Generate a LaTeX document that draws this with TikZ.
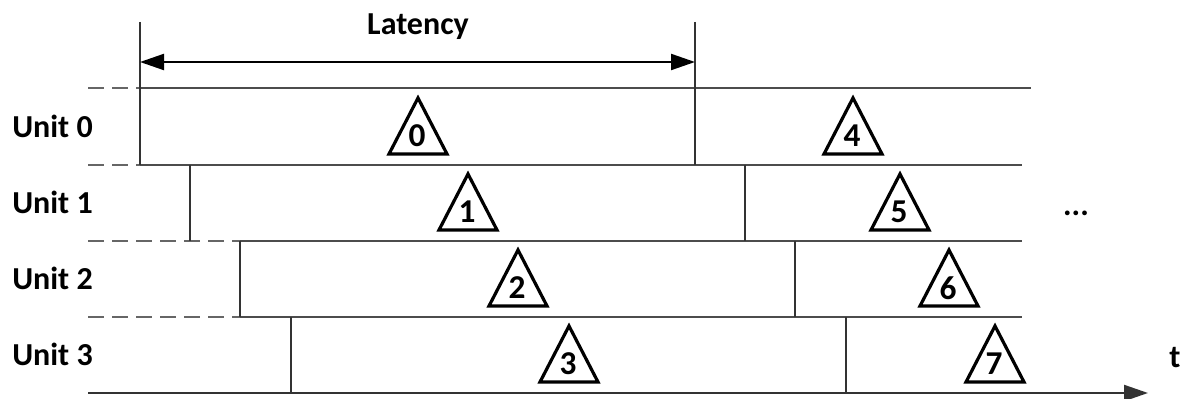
\documentclass[tikz,border=0pt]{standalone}
\usepackage{fontspec}
\setmainfont{Carlito}
\usetikzlibrary{arrows.meta}
\begin{document}
\begin{tikzpicture}[x=0.75pt,y=-0.75pt,
  lbl/.style={font=\bfseries\fontsize{24}{26}\selectfont, text=black, inner sep=0pt},
  dig/.style={font=\bfseries\fontsize{25}{27}\selectfont, text=black, inner sep=0pt},
  hl/.style={line width=1.6pt, draw=black!70},
  vl/.style={line width=1.6pt, draw=black!80},
  dsh/.style={line width=1.6pt, draw=black!60, dash pattern=on 12pt off 6pt},
  tri/.style={line width=2.4pt, draw=black, line join=miter},
  arr/.style={line width=1.6pt, draw=black, -{Triangle[length=18pt,width=12pt]}}]
\useasboundingbox (0,0) rectangle (1189,399);

% labels
\node[lbl] (lat) at (418,27) {Latency};
\node[lbl, anchor=west] (u0) at (12,126) {Unit 0};
\node[lbl, anchor=west] (u1) at (12,202) {Unit 1};
\node[lbl, anchor=west] (u2) at (12,278) {Unit 2};
\node[lbl, anchor=west] (u3) at (12,354) {Unit 3};
\node[lbl] (dots) at (1076,213) {...};
\node[lbl] (t) at (1175,358) {t};

% coordinates
\coordinate (a0) at (140,22);  \coordinate (b0) at (695,22);
\coordinate (la) at (140,62);  \coordinate (lb) at (695,62);

% dashed lead-ins
\draw[dsh] (88,88) -- (140,88);
\draw[dsh] (88,165) -- (140,165);
\draw[dsh] (88,241) -- (240,241);
\draw[dsh] (88,317) -- (240,317);

% horizontal lines
\draw[hl] (140,88) -- (1031,88);
\draw[hl] (140,165) -- (1022,165);
\draw[hl] (240,241) -- (1022,241);
\draw[hl] (240,317) -- (1022,317);

% axis
\coordinate (ax0) at (88,393); \coordinate (ax1) at (1148,393);
\draw[arr, draw=black!80] (ax0) -- (ax1);

% vertical lines
\draw[vl] (a0) -- (140,165);
\draw[vl] (b0) -- (695,165);
\draw[vl] (190,165) -- (190,241);
\draw[vl] (745,165) -- (745,241);
\draw[vl] (240,241) -- (240,317);
\draw[vl] (795,241) -- (795,317);
\draw[vl] (291,317) -- (291,393);
\draw[vl] (846,317) -- (846,393);

% latency arrow
\draw[line width=1.6pt, {Triangle[length=18pt,width=12pt]}-{Triangle[length=18pt,width=12pt]}] (la) -- (lb);

% triangles
\foreach \n/\cx/\by in {0/418/154, 1/468/230, 2/518/306, 3/569/382, 4/853/154, 5/900/230, 6/949/306, 7/995/382}{
  \draw[tri] (\cx-29,\by) -- (\cx,\by-56) -- (\cx+29,\by) -- cycle;
  \node[dig] (n\n) at (\cx-1,\by-18) {\n};
}
\end{tikzpicture}
\end{document}
